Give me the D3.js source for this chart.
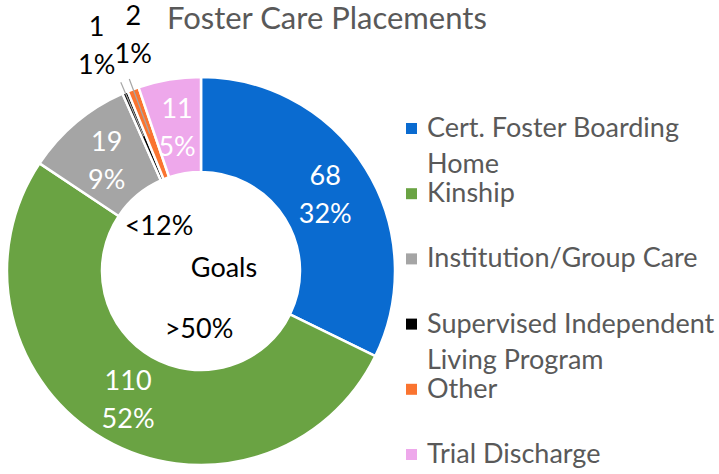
<!DOCTYPE html>
<html>
<head>
<meta charset="utf-8">
<script src="https://cdn.jsdelivr.net/npm/d3@7"></script>
<style>
  body { margin: 0; background: #fff; }
  text { font-family: Lato, "Open Sans", sans-serif; }
</style>
</head>
<body>
<script>
const categories = ['Cert. Foster Boarding Home', 'Kinship', 'Institution/Group Care',
  'Supervised Independent Living Program', 'Other', 'Trial Discharge'];
const legendLines = [['Cert. Foster Boarding', 'Home'], ['Kinship'], ['Institution/Group Care'],
  ['Supervised Independent', 'Living Program'], ['Other'], ['Trial Discharge']];
const counts = [68, 110, 19, 1, 2, 11];
const pctLabels = ['32%', '52%', '9%', '1%', '1%', '5%'];
const colors = ['#0A6BD0', '#6AA343', '#A5A5A5', '#000000', '#FA7430', '#EEA8EB'];
const outside = [false, false, false, true, true, false];
const goals = ['<12%', 'Goals', '>50%'];

const width = 719, height = 474;
const cx = 201, cy = 271;
const outerR = 194, innerR = 99;
const fs = 27;

const svg = d3.select('body').append('svg')
  .attr('width', width)
  .attr('height', height);

svg.append('text')
  .attr('x', 167).attr('y', 29)
  .attr('font-size', 31)
  .attr('fill', '#595959')
  .text('Foster Care Placements');

const pie = d3.pie().sort(null).value(d => d)
const arcs = pie(counts);
const arc = d3.arc().innerRadius(innerR).outerRadius(outerR);
const midArc = d3.arc().innerRadius((innerR + outerR) / 2).outerRadius((innerR + outerR) / 2);

const g = svg.append('g')
  .attr('transform', `translate(${cx},${cy})`);

g.selectAll('path.slice').data(arcs).join('path')
  .attr('class', 'slice')
  .attr('d', arc)
  .attr('fill', (d, i) => colors[i])
  .attr('stroke', '#fff')
  .attr('stroke-width', 2.5);

// inside labels
const inside = arcs.filter((d, i) => !outside[i]);
const lab = g.selectAll('g.lab').data(inside).join('g')
  .attr('class', 'lab')
  .attr('transform', d => `translate(${midArc.centroid(d)})`);
lab.append('text')
  .attr('text-anchor', 'middle').attr('y', -8)
  .attr('font-size', fs).attr('fill', '#fff')
  .text(d => d.data);
lab.append('text')
  .attr('text-anchor', 'middle').attr('y', 30)
  .attr('font-size', fs).attr('fill', '#fff')
  .text(d => pctLabels[d.index]);

// outside labels with leader lines (nudged apart so they don't collide)
const nudge = {3: {da: -2.5, r: 242}, 4: {da: 4, r: 239}};
const outs = arcs.filter((d, i) => outside[i]);
const polar = (a, r) => [r * Math.sin(a), -r * Math.cos(a)];
outs.forEach(d => {
  const mid = (d.startAngle + d.endAngle) / 2;
  g.append('line')
    .attr('x1', polar(mid, (innerR + outerR) / 2)[0])
    .attr('y1', polar(mid, (innerR + outerR) / 2)[1])
    .attr('x2', polar(mid, 205)[0])
    .attr('y2', polar(mid, 205)[1])
    .attr('stroke', '#A6A6A6')
    .attr('stroke-width', 1.2);
  const n = nudge[d.index];
  const p = polar(mid + n.da * Math.PI / 180, n.r);
  g.append('text')
    .attr('x', p[0]).attr('y', p[1] - 17)
    .attr('text-anchor', 'middle')
    .attr('font-size', fs).attr('fill', '#000')
    .text(d.data);
  g.append('text')
    .attr('x', p[0]).attr('y', p[1] + 21)
    .attr('text-anchor', 'middle')
    .attr('font-size', fs).attr('fill', '#000')
    .text(pctLabels[d.index]);
});

// goals text in the hole
const goalX = {'<12%': -42, 'Goals': 23, '>50%': -2};
const goalY = {'<12%': -36, 'Goals': 6, '>50%': 67};
g.selectAll('text.goal').data(goals).join('text')
  .attr('class', 'goal')
  .attr('x', d => goalX[d])
  .attr('y', d => goalY[d])
  .attr('text-anchor', 'middle')
  .attr('font-size', fs)
  .attr('fill', '#000')
  .text(d => d);

// legend
const ly = d3.scalePoint().domain(categories).range([137, 463]);
const leg = svg.append('g').selectAll('g').data(categories).join('g')
  .attr('transform', d => `translate(406,${ly(d)})`);
leg.append('rect')
  .attr('x', 0).attr('y', -14)
  .attr('width', 11).attr('height', 11)
  .attr('fill', (d, i) => colors[i]);
leg.each(function (d, i) {
  const t = d3.select(this).append('text')
    .attr('x', 21).attr('y', 0)
    .attr('font-size', fs)
    .attr('fill', '#595959');
  legendLines[i].forEach((line, j) => {
    t.append('tspan').attr('x', 21).attr('dy', j === 0 ? 0 : 36).text(line);
  });
});
</script>
</body>
</html>
